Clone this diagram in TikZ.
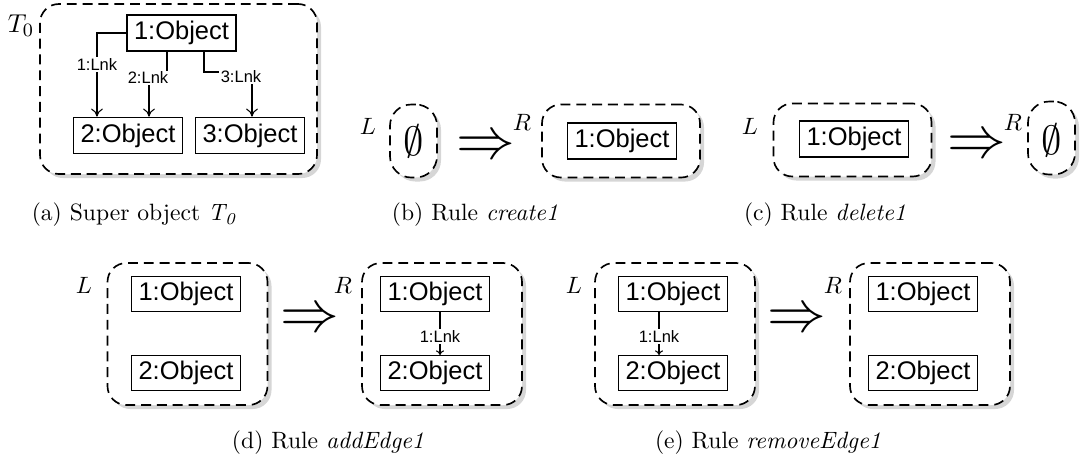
\documentclass[tikz,border=0pt]{standalone}
\usepackage{fontspec}
\newfontfamily\arialf{Liberation Sans}
\usetikzlibrary{arrows.meta,calc,shadows}
\newcommand{\objfont}{\arialf\fontsize{10.8}{13}\selectfont}
\newcommand{\lnkfont}{\arialf\fontsize{7}{8}\selectfont}
\newcommand{\pxu}{0.4237pt}
\begin{document}
\begin{tikzpicture}[x=0.4237pt,y=-0.4237pt,
  cont/.style={draw, dash pattern=on 4.2pt off 2.5pt, line width=0.7pt, rounded corners=8pt, fill=white, inner sep=0pt,
    drop shadow={shadow xshift=1.7pt, shadow yshift=-1.7pt, opacity=1, fill=black!16}},
  emptycont/.style={cont, rounded corners=9pt, minimum width=47*\pxu, minimum height=73*\pxu},
  rulecont/.style={cont, minimum width=158*\pxu, minimum height=73*\pxu},
  bigcont/.style={cont, minimum width=160*\pxu, minimum height=142*\pxu},
  obj/.style={draw, line width=0.6pt, fill=white, font=\objfont, inner xsep=2.9pt, inner ysep=0pt,
    minimum height=15.4pt, text height=7.9pt, text depth=2.3pt},
  objb/.style={obj, minimum height=14.6pt},
  lnk/.style={draw, line width=0.45pt, -{Computer Modern Rightarrow[length=3.4pt,width=5pt]}},
  lnksmall/.style={draw, line width=0.45pt, -{Computer Modern Rightarrow[length=2pt,width=3.4pt]}},
  lbl/.style={font=\lnkfont, fill=white, inner sep=0.6pt},
  side/.style={font=\normalsize, inner sep=0pt},
  impl/.style={font=\Huge, inner sep=0pt},
  emp/.style={font=\LARGE, inner sep=0pt},
  captxt/.style={font=\normalsize, inner sep=0pt}
]
\useasboundingbox (0,0) rectangle (1083,465);

% ---------- (a) ----------
\node[cont, minimum width=277*\pxu, minimum height=170*\pxu] (T) at (178.5,89) {};
\node[side, font=\fontsize{10.95}{13}\selectfont] (Tl) at (21,26) {$T_0$};
\node[obj] (a1) at (181.5,33) {1:Object};
\node[obj] (a2) at (128,135.5) {2:Object};
\node[obj] (a3) at (250,135.5) {3:Object};
\coordinate (c2) at (149,78);
\coordinate (c3) at (252,72);
\draw[lnk] (a1.west) -| ($(a2.north west)+(24,0)$) node[lbl,pos=0.69] {1:Lnk};
\draw[lnk] ($(a1.south)+(-14.5,0)$) |- (c2) -- (a2.north -| c2);
\node[lbl] (l2) at (148,78) {2:Lnk};
\draw[lnk] ($(a1.south)+(22.5,0)$) |- (c3) -- (a3.north -| c3);
\node[lbl] (l3) at (241,77) {3:Lnk};
\node[captxt] (capa) at (134,215) {(a) Super object $\mathit{T_0}$};

% ---------- (b) ----------
\node[side] (bLl) at (368,126) {$L$};
\node[emptycont] (bL) at (413.5,141) {};
\node[emp] (bE) at (413.5,141) {$\emptyset$};
\node[impl] (bA) at (486,148) {$\Rightarrow$};
\node[side] (bRl) at (522,122) {$R$};
\node[rulecont] (bR) at (621,141) {};
\node[obj] (b1) at (622,141) {1:Object};
\node[captxt] (capb) at (475,215) {(b) Rule \textit{create1}};

% ---------- (c) ----------
\node[side] (cLl) at (750,126) {$L$};
\node[rulecont] (cL) at (852.5,140) {};
\node[obj] (c1) at (854,139) {1:Object};
\node[impl] (cA) at (977,147) {$\Rightarrow$};
\node[side] (cRl) at (1013,122) {$R$};
\node[emptycont] (cR) at (1051.5,138) {};
\node[emp] (cE) at (1051.5,140) {$\emptyset$};
\node[captxt] (capc) at (825,215) {(c) Rule \textit{delete1}};

% ---------- (d) ----------
\node[side] (dLl) at (84,285) {$L$};
\node[bigcont] (dL) at (187.5,334) {};
\node[objb] (d1) at (186,294) {1:Object};
\node[objb] (d2) at (186,373) {2:Object};
\node[impl] (dA) at (310,321) {$\Rightarrow$};
\node[side] (dRl) at (343,285) {$R$};
\node[bigcont] (dR) at (442,334) {};
\node[objb] (d3) at (435,294) {1:Object};
\node[objb] (d4) at (435,373) {2:Object};
\coordinate (dk) at ($(d3.south)+(5,0)$);
\draw[lnksmall] (dk) -- (d4.north -| dk) node[lbl,pos=0.57] {1:Lnk};
\node[captxt] (capd) at (328,443) {(d) Rule \textit{addEdge1}};

% ---------- (e) ----------
\node[side] (eLl) at (574,285) {$L$};
\node[bigcont] (eL) at (675,334) {};
\node[objb] (e1) at (673,294) {1:Object};
\node[objb] (e2) at (673,373) {2:Object};
\coordinate (ek) at ($(e1.south)+(-14,0)$);
\draw[lnksmall] (ek) -- (e2.north -| ek) node[lbl,pos=0.57] {1:Lnk};
\node[impl] (eA) at (797,321) {$\Rightarrow$};
\node[side] (eRl) at (833,285) {$R$};
\node[bigcont] (eR) at (930,334) {};
\node[objb] (e3) at (923,294) {1:Object};
\node[objb] (e4) at (923,373) {2:Object};
\node[captxt] (cape) at (768,443) {(e) Rule \textit{removeEdge1}};
\end{tikzpicture}
\end{document}
